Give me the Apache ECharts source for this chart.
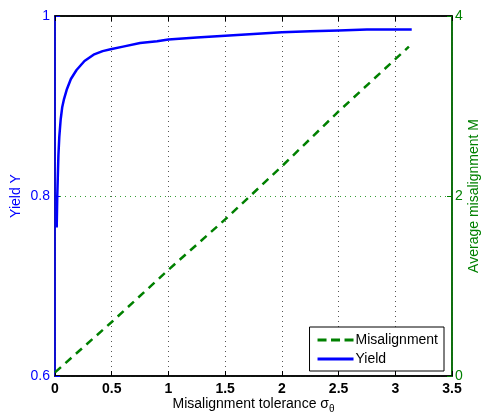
<!DOCTYPE html>
<html><head><meta charset="utf-8">
<script src="https://cdn.jsdelivr.net/npm/echarts@6/dist/echarts.min.js"></script>
<style>html,body{margin:0;padding:0;background:#fff}#c{width:481px;height:414px}</style>
</head><body><div id="c"></div>
<script>
// Data
var yieldX = [0.015, 0.02, 0.03, 0.038, 0.05, 0.064, 0.08, 0.103, 0.14, 0.19, 0.26, 0.34, 0.42, 0.49, 0.6, 0.75, 0.9, 1.0, 1.25, 1.5, 1.75, 2.0, 2.25, 2.5, 2.75, 3.0, 3.145];
var yieldY = [0.765, 0.80, 0.845, 0.866, 0.885, 0.899, 0.908, 0.918, 0.930, 0.940, 0.950, 0.957, 0.961, 0.963, 0.966, 0.970, 0.972, 0.974, 0.976, 0.978, 0.980, 0.982, 0.983, 0.984, 0.985, 0.985, 0.985];
var misX = [0, 0.5, 1.0, 1.5, 2.0, 2.5, 3.0, 3.12];
var misY = [0.04, 0.6, 1.18, 1.74, 2.33, 2.94, 3.52, 3.66];
var xTicks = [0, 0.5, 1, 1.5, 2, 2.5, 3, 3.5];
var leftTicks = [0.6, 0.8, 1];
var rightTicks = [0, 2, 4];

var BLUE = '#0000ff', GREEN = '#008000';
function zip(a, b) { return a.map(function (v, i) { return [v, b[i]]; }); }

var chart = echarts.init(document.getElementById('c'), null, {renderer: 'canvas'});
var font = 'Liberation Sans, Arial, Helvetica, sans-serif';
chart.setOption({
  animation: false,
  backgroundColor: '#fff',
  textStyle: {fontFamily: font},
  grid: {left: 55, right: 29, top: 16, bottom: 38, show: true, borderColor: '#000', borderWidth: 1.5,
    backgroundColor: 'transparent', containLabel: false, outerBoundsMode: 'none'},
  legend: {
    orient: 'vertical', right: 37, bottom: 43,
    backgroundColor: '#fff', borderColor: '#000', borderWidth: 1, borderRadius: 0,
    padding: [6, 6, 5, 8], itemGap: 5, itemWidth: 36, itemHeight: 3,
    textStyle: {fontFamily: font, fontSize: 14, color: '#000', padding: [0, 0, 0, -3]},
    data: [
      {name: 'Misalignment', icon: 'path://M0,0H9V3H0Z M13.5,0H22.5V3H13.5Z M27,0H36V3H27Z', itemStyle: {color: GREEN}},
      {name: 'Yield', icon: 'path://M0,0H36V3H0Z', itemStyle: {color: BLUE}}
    ]
  },
  xAxis: [{
    type: 'value', min: 0, max: 3.5, interval: 0.5, position: 'bottom',
    axisLine: {onZero: false, lineStyle: {color: '#000', width: 1.5}},
    axisTick: {inside: true, length: 5, lineStyle: {color: '#000'}},
    axisLabel: {color: '#000', fontSize: 14, fontWeight: 'bold', margin: 6, fontFamily: font,
      formatter: function (v) { return xTicks.indexOf(v) >= 0 ? String(v) : ''; }},
    splitLine: {show: true, lineStyle: {color: '#555', type: [1, 4], width: 1}},
    name: '{a|Misalignment tolerance σ}{s|θ}', nameLocation: 'middle', nameGap: 19, nameMoveOverlap: false,
    nameTextStyle: {rich: {
      a: {fontSize: 14, color: '#000', fontFamily: font},
      s: {fontSize: 10, color: '#000', fontFamily: font, padding: [9, 0, 0, 0]}
    }}
  }, {
    type: 'value', min: 0, max: 3.5, interval: 0.5, position: 'top',
    axisLine: {show: true, onZero: false, lineStyle: {color: '#000', width: 1.5}},
    axisTick: {show: true, inside: true, length: 5, lineStyle: {color: '#000'}},
    axisLabel: {show: false}, splitLine: {show: false}
  }],
  yAxis: [{
    type: 'value', min: 0.6, max: 1, interval: 0.2, position: 'left',
    axisLine: {show: true, onZero: false, lineStyle: {color: BLUE, width: 1.5}},
    axisTick: {show: true, inside: true, length: 5, lineStyle: {color: BLUE}},
    axisLabel: {color: BLUE, fontSize: 14, margin: 5, fontFamily: font,
      formatter: function (v) { var r = Math.round(v * 10) / 10; return leftTicks.indexOf(r) >= 0 ? String(r) : ''; }},
    splitLine: {show: false},
    name: 'Yield Y', nameLocation: 'middle', nameRotate: 90, nameGap: 32, nameMoveOverlap: false,
    nameTextStyle: {color: BLUE, fontSize: 14, fontFamily: font}
  }, {
    type: 'value', min: 0, max: 4, interval: 2, position: 'right',
    axisLine: {show: true, onZero: false, lineStyle: {color: GREEN, width: 1.5}},
    axisTick: {show: true, inside: true, length: 5, lineStyle: {color: GREEN}},
    axisLabel: {color: GREEN, fontSize: 14, margin: 3, fontFamily: font,
      formatter: function (v) { return rightTicks.indexOf(v) >= 0 ? String(v) : ''; }},
    splitLine: {show: true, lineStyle: {color: '#33a033', type: [1, 4], width: 1}},
    name: 'Average misalignment M', nameLocation: 'middle', nameRotate: 90, nameGap: 15, nameMoveOverlap: false,
    nameTextStyle: {color: GREEN, fontSize: 14, fontFamily: font}
  }],
  series: [{
    name: 'Misalignment', type: 'line', xAxisIndex: 0, yAxisIndex: 1,
    data: zip(misX, misY), symbol: 'none', showSymbol: false,
    lineStyle: {color: GREEN, width: 2.5, type: [8, 6]}, itemStyle: {color: GREEN}
  }, {
    name: 'Yield', type: 'line', xAxisIndex: 0, yAxisIndex: 0,
    data: zip(yieldX, yieldY), symbol: 'none', showSymbol: false,
    lineStyle: {color: BLUE, width: 2.5}, itemStyle: {color: BLUE}
  }]
});
</script></body></html>
